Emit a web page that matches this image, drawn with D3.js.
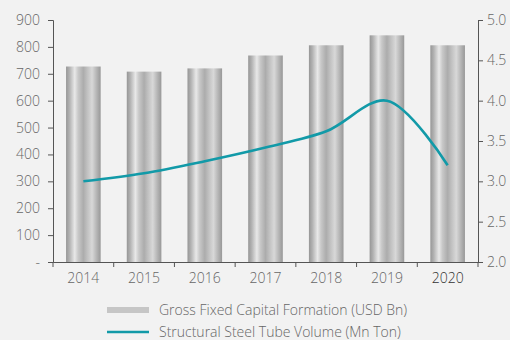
<!DOCTYPE html>
<html>
<head>
<meta charset="utf-8">
<script src="https://cdn.jsdelivr.net/npm/d3@7"></script>
<style>
  html, body { margin: 0; padding: 0; background: #f2f2f2; }
  svg { display: block; }
  text { font-family: "Open Sans", "Noto Sans", sans-serif; }
</style>
</head>
<body>
<svg id="chart" width="510" height="340"></svg>
<script>
const years = ["2014", "2015", "2016", "2017", "2018", "2019", "2020"];
const gfcf = [727, 708, 720, 768, 806, 843, 806];            // USD Bn
const tubeVolume = [3.0, 3.1, 3.25, 3.42, 3.62, 4.0, 3.2];    // Mn Ton
const leftTicks = [0, 100, 200, 300, 400, 500, 600, 700, 800, 900];
const rightTicks = [2.0, 2.5, 3.0, 3.5, 4.0, 4.5, 5.0];

const svg = d3.select("#chart");
const m = { left: 53, right: 478, top: 20, bottom: 262 };

const x = d3.scaleBand().domain(years).range([m.left, m.right]).paddingInner(0.43).paddingOuter(0.215);
const xBand = d3.scaleBand().domain(years).range([m.left, m.right]);
const yL = d3.scaleLinear().domain([0, 900]).range([m.bottom, m.top]);
const yR = d3.scaleLinear().domain([2, 5]).range([m.bottom, m.top]);

// cylindrical shading for the bars
const grad = svg.append("defs").append("linearGradient")
  .attr("id", "cyl").attr("x1", "0%").attr("x2", "100%").attr("y1", "0").attr("y2", "0");
[[0, "#969696"], [0.1, "#b2b2b2"], [0.25, "#e8e8e8"], [0.35, "#c8c8c8"], [0.5, "#acacac"],
 [0.62, "#c2c2c2"], [0.75, "#d8d8d8"], [0.88, "#b6b6b6"], [1, "#989898"]]
  .forEach(([o, c]) => grad.append("stop").attr("offset", o).attr("stop-color", c));

svg.append("g").selectAll("rect").data(years).join("rect")
  .attr("x", d => x(d))
  .attr("width", x.bandwidth())
  .attr("y", (d, i) => yL(gfcf[i]))
  .attr("height", (d, i) => m.bottom - yL(gfcf[i]))
  .attr("fill", "url(#cyl)");

// axes
const axisColor = "#555";
const labelColor = "#666";
const fontSize = 14;

const gL = svg.append("g").attr("transform", `translate(${m.left},0)`)
  .call(d3.axisLeft(yL).tickValues(leftTicks).tickSizeOuter(0).tickSize(5).tickPadding(8)
    .tickFormat(d => d === 0 ? "-" : d));
const gR = svg.append("g").attr("transform", `translate(${m.right},0)`)
  .call(d3.axisRight(yR).tickValues(rightTicks).tickSizeOuter(0).tickSize(5).tickPadding(4)
    .tickFormat(d3.format(".1f")));
const gX = svg.append("g").attr("transform", `translate(0,${m.bottom})`)
  .call(d3.axisBottom(xBand).tickSize(0).tickPadding(11));

// tick marks at category boundaries
svg.append("g").selectAll("line").data(d3.range(years.length + 1)).join("line")
  .attr("x1", i => m.left + i * xBand.step()).attr("x2", i => m.left + i * xBand.step())
  .attr("y1", m.bottom).attr("y2", m.bottom + 5)
  .attr("stroke", axisColor);

[gL, gR, gX].forEach(g => {
  g.select(".domain").attr("stroke", axisColor);
  g.selectAll(".tick line").attr("stroke", axisColor);
  g.selectAll("text").attr("fill", labelColor).attr("font-size", fontSize).attr("font-weight", 300);
});
gX.selectAll("text").filter(d => d === "2020").attr("fill", "#333");

// steel tube volume line
const line = d3.line()
  .x((d, i) => xBand(years[i]) + xBand.bandwidth() / 2)
  .y(d => yR(d))
  .curve(d3.curveCatmullRom.alpha(0.5));
svg.append("path").datum(tubeVolume)
  .attr("d", line).attr("fill", "none")
  .attr("stroke", "#129aa8").attr("stroke-width", 2.6);

// legend
const lg = svg.append("g");
lg.append("rect").attr("x", 107).attr("y", 307).attr("width", 42).attr("height", 6).attr("fill", "#c6c6c6");
lg.append("text").attr("x", 159).attr("y", 315).text("Gross Fixed Capital Formation (USD Bn)")
  .attr("fill", labelColor).attr("font-size", fontSize).attr("font-weight", 300);
lg.append("line").attr("x1", 107).attr("x2", 149).attr("y1", 332).attr("y2", 332)
  .attr("stroke", "#129aa8").attr("stroke-width", 2.6);
lg.append("text").attr("x", 159).attr("y", 337).text("Structural Steel Tube Volume (Mn Ton)")
  .attr("fill", labelColor).attr("font-size", fontSize).attr("font-weight", 300);
</script>
</body>
</html>
